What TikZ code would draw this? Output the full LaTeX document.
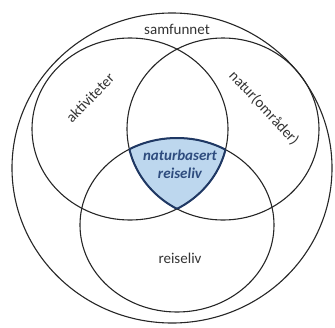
\documentclass[tikz,border=0pt]{standalone}
\usepackage{fontspec}
\setmainfont{Carlito}
\definecolor{shadeblue}{HTML}{BDD7EE}
\definecolor{rimblue}{HTML}{1F3864}
\definecolor{labelblue}{HTML}{2E4C7E}

\begin{document}
\begin{tikzpicture}[x=1pt,y=-1pt,
  setline/.style={line width=1.1pt, black!85},
  rimline/.style={line width=2pt, rimblue},
  setlabel/.style={font=\fontsize{15}{18}\selectfont, text=black!80},
  corelabel/.style={font=\fontsize{15}{18}\selectfont\bfseries\itshape,
    text=labelblue, align=center}]

\def\samfunnet{(172,168) ellipse [x radius=160, y radius=155]}
\def\aktiviteter{(130,129) ellipse [x radius=98, y radius=91]}
\def\natur{(223,129) ellipse [x radius=96, y radius=91]}
\def\reiseliv{(177,225) ellipse [x radius=97, y radius=87]}

\useasboundingbox (0,0) rectangle (335,327);

% core area
\begin{scope}
  \clip \aktiviteter;
  \clip \natur;
  \fill[shadeblue] \reiseliv;
\end{scope}

\draw[setline] \samfunnet;
\draw[setline] \aktiviteter;
\draw[setline] \natur;
\draw[setline] \reiseliv;

% rim of the core
\begin{scope}
  \clip \aktiviteter; \clip \natur;
  \draw[rimline] \reiseliv;
\end{scope}
\begin{scope}
  \clip \aktiviteter; \clip \reiseliv;
  \draw[rimline] \natur;
\end{scope}
\begin{scope}
  \clip \natur; \clip \reiseliv;
  \draw[rimline] \aktiviteter;
\end{scope}

\node[setlabel] (samf) at (177,29) {samfunnet};
\node[setlabel, rotate=46] (akt) at (90,98) {aktiviteter};
\node[setlabel, rotate=-47] (nat) at (264,108) {natur(områder)};
\node[setlabel] (reis) at (180,258) {reiseliv};
\node[corelabel] (core) at (180,164) {naturbasert\\reiseliv};

\end{tikzpicture}
\end{document}
